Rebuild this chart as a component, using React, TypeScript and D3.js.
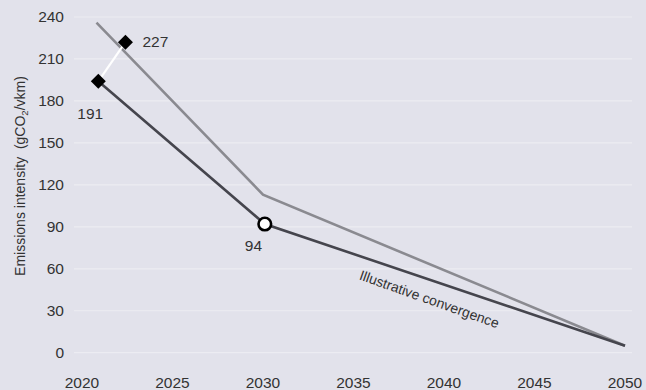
import React from "react";
import * as d3 from "d3";

const W = 646;
const H = 390;

const xTicks = [2020, 2025, 2030, 2035, 2040, 2045, 2050];
const yTicks = [0, 30, 60, 90, 120, 150, 180, 210, 240];

// Upper (grey) pathway
const greyYears = [2020.8, 2030, 2050];
const greyValues = [236, 113, 5];

// Lower (dark) pathway
const darkYears = [2020.9, 2030.1, 2050];
const darkValues = [194, 92, 5];

// Diamond markers
const diamondYears = [2020.9, 2022.4];
const diamondValues = [194, 222];
const diamondLabels = ["191", "227"];

// Circle marker
const circleYear = 2030.1;
const circleValue = 92;
const circleLabel = "94";

const noteText = "Illustrative convergence";
const noteYear = 2039.1;
const noteValue = 35;

const FONT = "'Liberation Sans', Arial, Helvetica, sans-serif";
const TEXT = "#333333";

export default function App() {
  const x = d3.scaleLinear().domain([2020, 2050]).range([82, 625]);
  const y = d3.scaleLinear().domain([0, 240]).range([352.7, 17]);

  const line = d3
    .line<[number, number]>()
    .x((d) => x(d[0]))
    .y((d) => y(d[1]));

  const grey = greyYears.map((yr, i) => [yr, greyValues[i]] as [number, number]);
  const dark = darkYears.map((yr, i) => [yr, darkValues[i]] as [number, number]);
  const dia = diamondYears.map((yr, i) => [yr, diamondValues[i]] as [number, number]);

  const labelOffsets = [
    { dx: -21, dy: 38 },
    { dx: 17, dy: 4.5 },
  ];

  const diamondPath = (cx: number, cy: number, r: number) =>
    `M${cx},${cy - r}L${cx + r},${cy}L${cx},${cy + r}L${cx - r},${cy}Z`;

  return (
    <svg
      width={W}
      height={H}
      style={{ position: "absolute", left: 0, top: 0, fontFamily: FONT }}
    >
      <rect x={0} y={0} width={W} height={H} fill="#e2e2eb" />
      {yTicks.map((t) => (
        <g key={t}>
          <line x1={74} x2={632} y1={y(t)} y2={y(t)} stroke="#ececf2" strokeWidth={1.2} />
          <text
            x={64}
            y={y(t)}
            dy="0.35em"
            textAnchor="end"
            fontSize={15.5}
            fill={TEXT}
          >
            {t}
          </text>
        </g>
      ))}
      {xTicks.map((t) => (
        <text
          key={t}
          x={x(t)}
          y={387.5}
          textAnchor="middle"
          fontSize={15.5}
          fill={TEXT}
        >
          {t}
        </text>
      ))}
      <text
        transform={`translate(25,176) rotate(-90)`}
        textAnchor="middle"
        fontSize={14}
        fill={TEXT}
      >
        Emissions intensity{"\u00a0\u00a0"}(gCO
        <tspan fontSize={9.5} dy={3}>2</tspan>
        <tspan dy={-3}>/vkm)</tspan>
      </text>

      <path d={line(grey) || ""} fill="none" stroke="#8a8a90" strokeWidth={2.6} />
      <path d={line(dark) || ""} fill="none" stroke="#45454d" strokeWidth={2.6} />
      <path d={line(dia) || ""} fill="none" stroke="#ffffff" strokeWidth={2.2} />

      {dia.map((d, i) => (
        <g key={i}>
          <path d={diamondPath(x(d[0]), y(d[1]), 7.5)} fill="#000" />
          <text
            x={x(d[0]) + labelOffsets[i].dx}
            y={y(d[1]) + labelOffsets[i].dy}
            fontSize={15.5}
            fill={TEXT}
          >
            {diamondLabels[i]}
          </text>
        </g>
      ))}

      <circle
        cx={x(circleYear)}
        cy={y(circleValue)}
        r={6.3}
        fill="#fff"
        stroke="#000"
        strokeWidth={2.6}
      />
      <text
        x={x(circleYear) - 20}
        y={y(circleValue) + 27}
        fontSize={15.5}
        fill={TEXT}
      >
        {circleLabel}
      </text>

      <text
        transform={`translate(${x(noteYear)},${y(noteValue)}) rotate(19.5)`}
        textAnchor="middle"
        fontSize={14}
        fill={TEXT}
      >
        {noteText}
      </text>
    </svg>
  );
}
